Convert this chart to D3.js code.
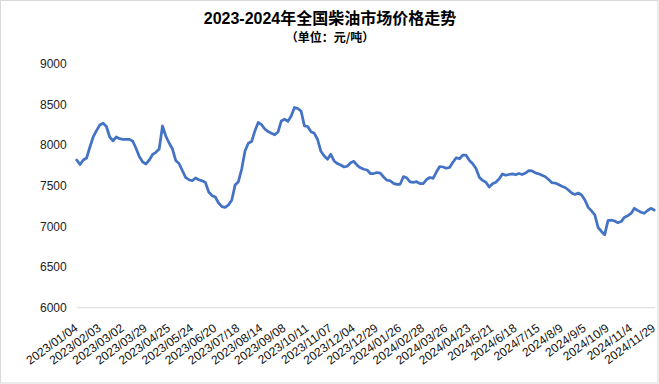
<!DOCTYPE html>
<html>
<head>
<meta charset="utf-8">
<script src="https://cdn.jsdelivr.net/npm/d3@7"></script>
<style>
  html, body { margin: 0; padding: 0; background: #fff; }
  svg { display: block; }
</style>
</head>
<body>
<div id="chart"></div>
<script>
// 2023-2024 diesel price trend (yuan/ton), category axis of sampled trading days

const tickLabels = [
  '2023/01/04', '2023/02/03', '2023/03/02', '2023/03/29', '2023/04/25', '2023/05/24',
  '2023/06/20', '2023/07/18', '2023/08/14', '2023/09/08', '2023/10/11', '2023/11/07',
  '2023/12/04', '2023/12/29', '2024/01/26', '2024/02/28', '2024/03/26', '2024/04/23',
  '2024/5/21', '2024/6/18', '2024/7/15', '2024/8/9', '2024/9/5', '2024/10/9',
  '2024/11/4', '2024/11/29'
];

// points between two labelled dates
const labelStep = 7;

const prices = [
  7816, 7760, 7816, 7840, 7976, 8099, 8177, 8246, 8267, 8228,
  8099, 8053, 8099, 8078, 8070, 8070, 8070, 8046, 7957, 7855,
  7791, 7767, 7816, 7884, 7911, 7951, 8234, 8111, 8025, 7954,
  7810, 7773, 7687, 7603, 7573, 7561, 7595, 7573, 7560, 7539,
  7423, 7378, 7361, 7287, 7242, 7234, 7263, 7324, 7509, 7549,
  7705, 7927, 8021, 8043, 8173, 8277, 8250, 8197, 8165, 8146,
  8126, 8160, 8296, 8318, 8291, 8357, 8462, 8449, 8418, 8236,
  8228, 8163, 8144, 8068, 7923, 7865, 7826, 7886, 7804, 7772,
  7754, 7730, 7739, 7782, 7800, 7750, 7720, 7702, 7693, 7650,
  7650, 7662, 7654, 7607, 7568, 7561, 7529, 7517, 7517, 7611,
  7598, 7546, 7542, 7549, 7525, 7527, 7576, 7601, 7591, 7668,
  7736, 7730, 7715, 7725, 7788, 7844, 7831, 7877, 7875, 7811,
  7771, 7712, 7603, 7565, 7543, 7484, 7525, 7543, 7582, 7645,
  7628, 7638, 7646, 7634, 7650, 7637, 7656, 7684, 7681, 7657,
  7646, 7628, 7611, 7576, 7537, 7533, 7515, 7494, 7478, 7447,
  7410, 7392, 7410, 7386, 7324, 7234, 7190, 7142, 6986, 6938,
  6898, 7070, 7076, 7066, 7045, 7059, 7113, 7132, 7159, 7222,
  7196, 7173, 7161, 7195, 7222, 7201
];

const yTicks = [6000, 6500, 7000, 7500, 8000, 8500, 9000];

const width = 659, height = 384;
const plot = { left: 76.7, right: 654.2, top: 63.7, bottom: 307.7 };
const fontLatin = '"Liberation Sans", Arial, "Noto Sans CJK SC", sans-serif';

const svg = d3.select('#chart')
  .append('svg')
  .attr('width', width)
  .attr('height', height);

// chart area border
svg.append('rect')
  .attr('x', 0.5).attr('y', 0.5)
  .attr('width', width - 1.5).attr('height', height - 1.5)
  .attr('fill', '#fff')
  .attr('stroke', '#d9d9d9');

// titles
svg.append('text')
  .attr('x', 330).attr('y', 24)
  .attr('text-anchor', 'middle')
  .attr('font-family', fontLatin)
  .attr('font-weight', 'bold')
  .attr('font-size', '16px')
  .attr('fill', '#000')
  .text('2023-2024年全国柴油市场价格走势');

svg.append('text')
  .attr('x', 330).attr('y', 42)
  .attr('text-anchor', 'middle')
  .attr('font-family', '"Noto Sans CJK SC", sans-serif')
  .attr('font-weight', 'bold')
  .attr('font-size', '12px')
  .attr('fill', '#000')
  .text('（单位：元/吨）');

const x = d3.scaleLinear()
  .domain([0, prices.length - 1])
  .range([plot.left, plot.right]);

const y = d3.scaleLinear()
  .domain([6000, 9000])
  .range([plot.bottom, plot.top]);

// y axis labels, no gridlines except the base line
const yAxis = svg.append('g')
  .attr('transform', `translate(${plot.left}, 0)`)
  .call(d3.axisLeft(y).tickValues(yTicks).tickSize(0).tickPadding(10).tickFormat(d3.format('d')));
yAxis.select('.domain').remove();
yAxis.selectAll('text')
  .attr('font-family', fontLatin)
  .attr('font-size', '12px')
  .attr('fill', '#222');

// category axis line
svg.append('line')
  .attr('x1', plot.left).attr('x2', plot.right + 1)
  .attr('y1', y(6000)).attr('y2', y(6000))
  .attr('stroke', '#d9d9d9')
  .attr('stroke-width', 1);

// rotated date labels
svg.append('g')
  .selectAll('text')
  .data(tickLabels)
  .join('text')
  .attr('transform', (d, i) => `translate(${x(i * labelStep) + 2}, ${y(6000) + 22}) rotate(-36)`)
  .attr('text-anchor', 'end')
  .attr('font-family', fontLatin)
  .attr('font-size', '12px')
  .attr('fill', '#111')
  .text(d => d);

// price line
const line = d3.line()
  .x((d, i) => x(i))
  .y(d => y(d));

svg.append('path')
  .datum(prices)
  .attr('d', line)
  .attr('fill', 'none')
  .attr('stroke', '#4472c4')
  .attr('stroke-width', 2.75)
  .attr('stroke-linejoin', 'round')
  .attr('stroke-linecap', 'round');
</script>
</body>
</html>
